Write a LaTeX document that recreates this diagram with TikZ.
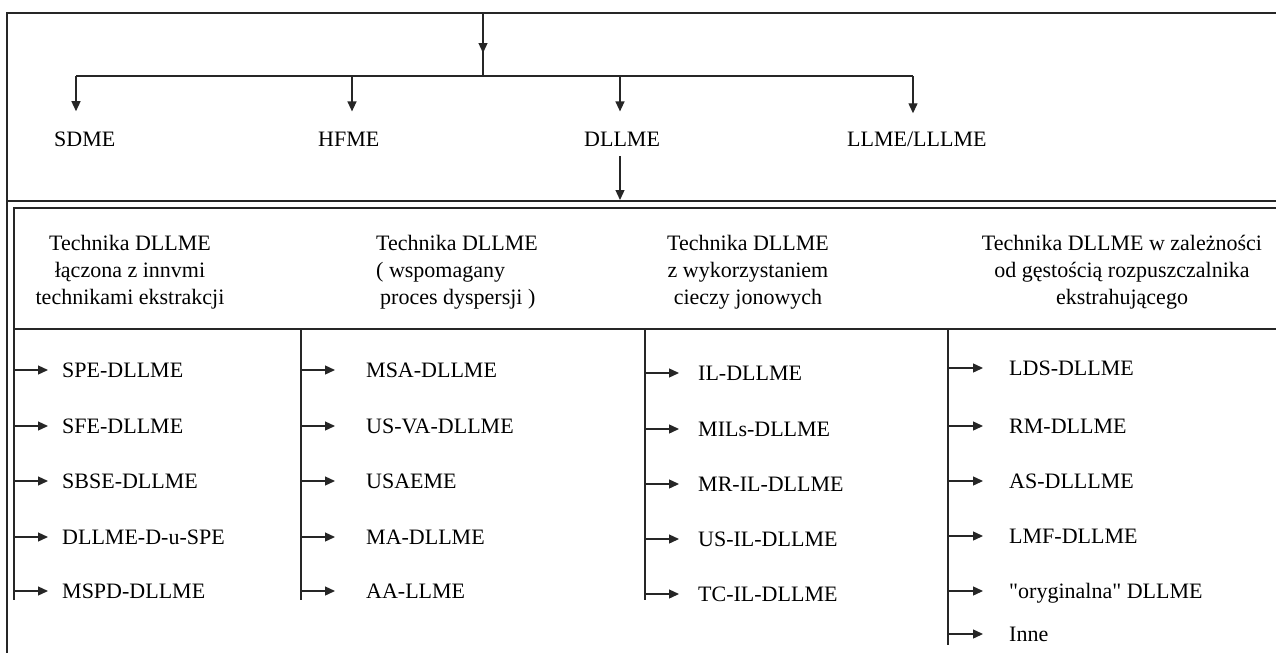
\documentclass[tikz,border=0pt]{standalone}
\usepackage{fontspec}
\setmainfont{Liberation Serif}
\usetikzlibrary{arrows.meta}
\begin{document}
\begin{tikzpicture}[x=1pt,y=-1pt,
  frame/.style={line width=1.5pt, draw=black!85},
  conn/.style={line width=1.3pt, draw=black!85},
  arr/.style={conn,-{Triangle[length=10pt,width=9pt]}},
  lbl/.style={inner sep=0pt, anchor=base west, font=\fontsize{22}{26}\selectfont},
  hdr/.style={inner sep=0pt, anchor=north, align=center, font=\fontsize{22}{27}\selectfont}]
\useasboundingbox (0,0) rectangle (1276,653);
% frames
\draw[frame] (1276,13) -- (7,13) -- (7,653);
\draw[frame] (7,201) -- (1276,201);
\draw[frame] (1276,208) -- (14,208) -- (14,600);
\draw[frame] (14,329) -- (1276,329);
\coordinate (l1) at (14,329);
\coordinate (l2) at (301,329);
\coordinate (l3) at (645,329);
\coordinate (l4) at (948,329);
\draw[frame] (l2) -- (301,600);
\draw[frame] (l3) -- (645,600);
\draw[frame] (l4) -- (948,645);
% top tree
\coordinate (top) at (483,13);
\coordinate (mid) at (483,53);
\coordinate (split) at (483,76);
\coordinate (b1) at (76,76);
\coordinate (b2) at (352,76);
\coordinate (b3) at (620,76);
\coordinate (b4) at (913,76);
\coordinate (d) at (620,200);
\draw[conn] (top) -- (split);
\draw[arr] (top) -- (mid);
\draw[conn] (b1) -- (b4);
\node[lbl] (sdme) at (54,146) {SDME};
\node[lbl] (hfme) at (318,146) {HFME};
\node[lbl] (dllme) at (584,146) {DLLME};
\node[lbl] (llme) at (847,146) {LLME/LLLME};
\draw[arr] (b1) -- ([yshift=20pt]b1 |- sdme.north);
\draw[arr] (b2) -- ([yshift=20pt]b2 |- hfme.north);
\draw[arr] (b3) -- ([yshift=20pt]b3 |- dllme.north);
\draw[arr] (b4) -- ([yshift=18pt]b4 |- llme.north);
\draw[arr] ([yshift=-10pt]b3 |- dllme.south) -- (d);
% headers
\node[hdr] (h1) at (130,235) {Technika DLLME\\łączona z innvmi\\technikami ekstrakcji};
\node[hdr, anchor=north west, align=left] (h2) at (376,235) {Technika DLLME\\( wspomagany\\\hspace*{4pt}proces dyspersji )};
\node[hdr] (h3) at (748,235) {Technika DLLME\\z wykorzystaniem\\cieczy jonowych};
\node[hdr] (h4) at (1122,235) {Technika DLLME w zależności\\od gęstością rozpuszczalnika\\ekstrahującego};
% column 1
\foreach \n/\t/\y in {a1/SPE-DLLME/370, a2/SFE-DLLME/426, a3/SBSE-DLLME/481, a4/DLLME-D-u-SPE/537, a5/MSPD-DLLME/591}{
  \node[lbl] (\n) at (62,\y+7.5) {\t};
  \draw[arr] ([yshift=7.5pt]l1 |- \n.base) -- ++(34,0);
}
% column 2
\foreach \n/\t/\y in {b1/MSA-DLLME/370, b2/US-VA-DLLME/426, b3/USAEME/481, b4/MA-DLLME/537, b5/AA-LLME/591}{
  \node[lbl] (\n) at (366,\y+7.5) {\t};
  \draw[arr] ([yshift=7.5pt]l2 |- \n.base) -- ++(34,0);
}
% column 3
\foreach \n/\t/\y in {c1/IL-DLLME/373, c2/MILs-DLLME/429, c3/MR-IL-DLLME/484, c4/US-IL-DLLME/539, c5/TC-IL-DLLME/594}{
  \node[lbl] (\n) at (698,\y+7.5) {\t};
  \draw[arr] ([yshift=7.5pt]l3 |- \n.base) -- ++(34,0);
}
% column 4
\foreach \n/\t/\y in {e1/LDS-DLLME/368, e2/RM-DLLME/426, e3/AS-DLLLME/481, e4/LMF-DLLME/536, e5/\textquotedbl oryginalna\textquotedbl{} DLLME/591, e6/Inne/634}{
  \node[lbl] (\n) at (1009,\y+7.5) {\t};
  \draw[arr] ([yshift=7.5pt]l4 |- \n.base) -- ++(35,0);
}
\end{tikzpicture}
\end{document}
